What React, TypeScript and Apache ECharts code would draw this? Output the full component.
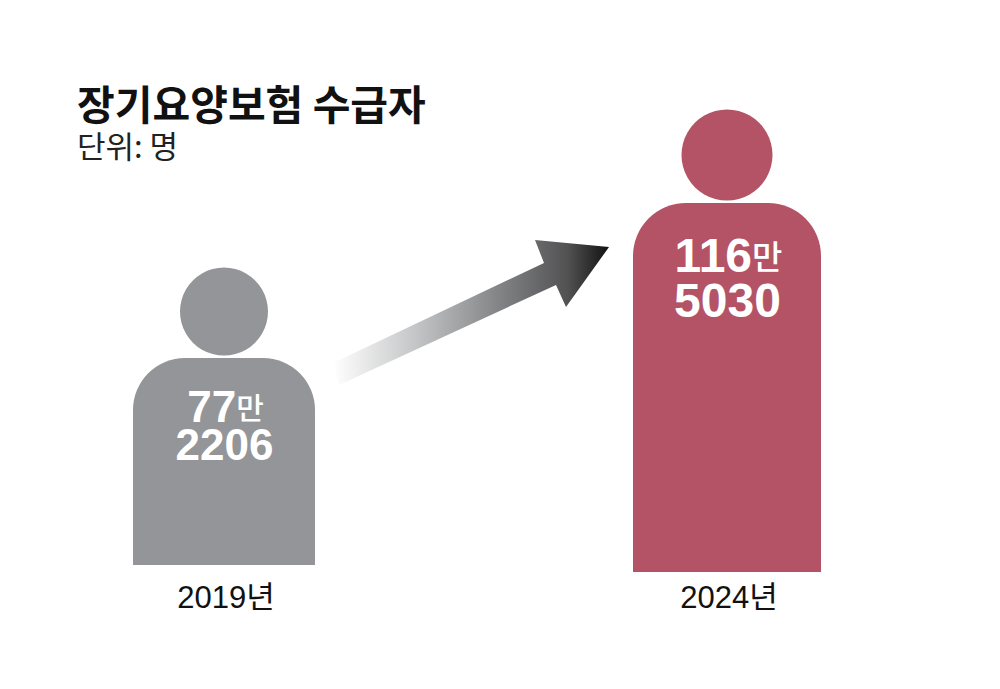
import React, { useEffect, useRef } from "react";
import * as echarts from "echarts";

const titleText = "장기요양보험 수급자";
const unitText = "단위: 명";
const years = ["2019년", "2024년"];
const recipients = [772206, 1165030];
const baseValues = [247700, 230000];
const manLabels = ["77", "116"];
const manUnit = "만";
const restLabels = ["2206", "5030"];

const AXIS_MIN = 230000;
const AXIS_MAX = 1165030;
const SANS = '"Liberation Sans", Arial, sans-serif';
const KR = '"Noto Sans CJK KR", sans-serif';

const figures = [
  { color: "#939598", width: 182, radius: 52, headR: 44, headGap: 46.5, big: 44, small: 30, line1: 48, line2: 86, lh: 36 },
  { color: "#B45366", width: 188, radius: 53, headR: 45.5, headGap: 48, big: 48, small: 33, line1: 52, line2: 97, lh: 40 },
];

const arrowPoints = [
  [333, 363],
  [544, 263],
  [535, 240],
  [609, 247],
  [566, 307],
  [556, 285],
  [339, 385],
];

export default function App() {
  const ref = useRef<HTMLDivElement>(null);

  useEffect(() => {
    const chart = echarts.init(ref.current!, null, { renderer: "svg" });
    chart.setOption({
      animation: false,
      backgroundColor: "#ffffff",
      title: {
        text: titleText,
        subtext: unitText,
        left: 72,
        top: 75,
        itemGap: 4,
        textStyle: { fontFamily: KR, fontSize: 41, fontWeight: "bold", color: "#111111", lineHeight: 44 },
        subtextStyle: { fontFamily: KR, fontSize: 31, fontWeight: "normal", color: "#222222", lineHeight: 32 },
      },
      grid: { left: 224, top: 203, width: 503, height: 369 },
      xAxis: {
        type: "category",
        data: years,
        boundaryGap: false,
        axisLine: { show: false },
        axisTick: { show: false },
        axisLabel: {
          margin: 10,
          interval: 0,
          padding: [0, 0, 0, 4],
          fontFamily: '"Liberation Sans", "Noto Sans CJK KR", sans-serif',
          fontSize: 31,
          color: "#111111",
        },
      },
      yAxis: { type: "value", min: AXIS_MIN, max: AXIS_MAX, show: false, splitLine: { show: false } },
      series: [
        {
          type: "custom",
          clip: false,
          encode: { x: 0, y: [1, 2] },
          data: recipients.map((v, i) => [i, baseValues[i], v]),
          renderItem: (params: any, api: any) => {
            const i = params.dataIndex;
            const f = figures[i];
            const top = api.coord([api.value(0), api.value(2)]);
            const base = api.coord([api.value(0), api.value(1)]);
            const cx = top[0];
            const cy = top[1];
            return {
              type: "group",
              children: [
                {
                  type: "rect",
                  shape: {
                    x: cx - f.width / 2,
                    y: cy,
                    width: f.width,
                    height: base[1] - cy,
                    r: [f.radius, f.radius, 0, 0],
                  },
                  style: { fill: f.color },
                },
                {
                  type: "circle",
                  shape: { cx, cy: cy - f.headGap, r: f.headR },
                  style: { fill: f.color },
                },
                {
                  type: "text",
                  x: cx + 1.5,
                  y: cy + f.line1,
                  style: {
                    text: `{a|${manLabels[i]}}{b|${manUnit}}`,
                    align: "center",
                    verticalAlign: "middle",
                    lineHeight: f.lh,
                    rich: {
                      a: { fontFamily: SANS, fontWeight: "bold", fontSize: f.big, fill: "#ffffff", color: "#ffffff", lineHeight: f.lh },
                      b: { fontFamily: KR, fontWeight: "500", fontSize: f.small, fill: "#ffffff", color: "#ffffff", lineHeight: f.lh },
                    },
                  },
                },
                {
                  type: "text",
                  x: cx + 0.5,
                  y: cy + f.line2,
                  style: {
                    text: restLabels[i],
                    align: "center",
                    verticalAlign: "middle",
                    lineHeight: f.lh,
                    fontFamily: SANS,
                    fontWeight: "bold",
                    fontSize: f.big,
                    fill: "#ffffff",
                  },
                },
              ],
            };
          },
        },
      ],
      graphic: [
        {
          type: "polygon",
          shape: { points: arrowPoints },
          style: {
            fill: new echarts.graphic.LinearGradient(0, 0, 1, 0, [
              { offset: 0, color: "#ffffff" },
              { offset: 0.3, color: "#c4c5c6" },
              { offset: 0.6, color: "#838486" },
              { offset: 0.85, color: "#525253" },
              { offset: 1, color: "#111111" },
            ]),
          },
        },
      ],
    });
    return () => chart.dispose();
  }, []);

  return (
    <div
      ref={ref}
      style={{ position: "absolute", left: 0, top: 0, width: 1000, height: 689, background: "#fff" }}
    />
  );
}
